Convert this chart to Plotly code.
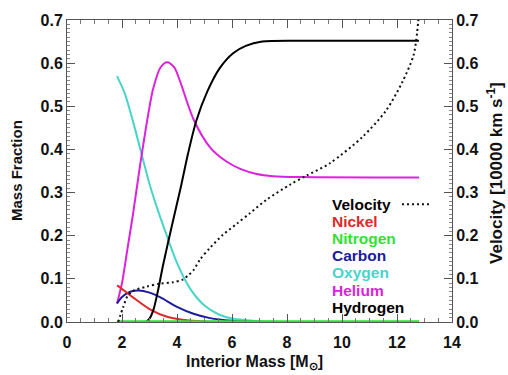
import plotly.graph_objects as go

# Composition profiles versus interior mass (solar masses)
oxygen_x = [1.82, 2.1, 2.4, 2.73, 3.0, 3.3, 3.63, 4.0, 4.47, 5.0, 5.5, 6.0, 7.0, 8.0, 12.8]
oxygen_y = [0.57, 0.53, 0.465, 0.385, 0.32, 0.26, 0.20, 0.137, 0.078, 0.038, 0.018, 0.008, 0.002, 0.0, 0.0]

helium_x = [1.82, 2.0, 2.2, 2.4, 2.65, 2.95, 3.13, 3.4, 3.64, 3.9, 4.1, 4.6, 5.2, 5.8, 6.3, 6.9, 7.5, 8.5, 12.8]
helium_y = [0.043, 0.09, 0.17, 0.25, 0.36, 0.48, 0.54, 0.59, 0.602, 0.59, 0.56, 0.47, 0.405, 0.372,
            0.355, 0.343, 0.338, 0.336, 0.335]

hydrogen_x = [1.82, 2.85, 3.0, 3.15, 3.3, 3.5, 3.82, 4.15, 4.4, 4.7, 5.1, 5.56, 6.04, 6.5, 7.1, 8.4, 12.8]
hydrogen_y = [0.0, 0.0, 0.008, 0.03, 0.07, 0.134, 0.225, 0.316, 0.39, 0.466, 0.534, 0.589, 0.623, 0.64, 0.65, 0.652, 0.652]

nickel_x = [1.82, 2.1, 2.4, 3.0, 3.64, 4.2, 5.0, 6.0, 12.8]
nickel_y = [0.085, 0.072, 0.057, 0.03, 0.012, 0.005, 0.001, 0.0, 0.0]

carbon_x = [1.82, 2.0, 2.3, 2.6, 3.0, 3.4, 4.0, 4.6, 5.2, 6.0, 7.0, 12.8]
carbon_y = [0.043, 0.058, 0.07, 0.073, 0.068, 0.057, 0.035, 0.019, 0.009, 0.003, 0.0, 0.0]

nitrogen_x = [1.82, 12.8]
nitrogen_y = [0.002, 0.002]

# Expansion velocity in units of 10000 km/s
velocity_x = [1.86, 2.04, 2.2, 2.4, 2.9, 3.38, 3.85, 4.2, 4.4, 4.6, 4.84, 5.2, 5.67, 6.18, 6.65,
              7.27, 8.1, 8.7, 9.56, 10.76, 11.6, 12.2, 12.6, 12.73, 12.8]
velocity_y = [0.0, 0.034, 0.06, 0.072, 0.082, 0.089, 0.092, 0.098, 0.108, 0.12, 0.145, 0.172, 0.202,
              0.228, 0.252, 0.284, 0.318, 0.339, 0.368, 0.43, 0.49, 0.557, 0.618, 0.67, 0.72]

legend_labels = ["Velocity", "Nickel", "Nitrogen", "Carbon", "Oxygen", "Helium", "Hydrogen"]

C_NI = "#dd2a2a"
C_N = "#33e033"
C_C = "#1c1c9c"
C_O = "#48d4c8"
C_HE = "#dd22dd"
C_H = "#000000"
legend_colors = ["#000000", C_NI, C_N, C_C, C_O, C_HE, C_H]

FONT = "Liberation Sans"
INK = "#111111"

fig = go.Figure()


def add_line(x, y, color, yaxis="y", dash="solid"):
    fig.add_trace(go.Scatter(
        x=x, y=y, mode="lines", yaxis=yaxis,
        line=dict(color=color, width=2, shape="spline", smoothing=0.8, dash=dash),
        showlegend=False, hoverinfo="skip",
    ))


add_line(oxygen_x, oxygen_y, C_O)
add_line(helium_x, helium_y, C_HE)
add_line(carbon_x, carbon_y, C_C)
add_line(nickel_x, nickel_y, C_NI)
add_line(hydrogen_x, hydrogen_y, C_H)
add_line(nitrogen_x, nitrogen_y, C_N)
add_line(velocity_x, velocity_y, "#111111", yaxis="y2", dash="2px,3px")

# plot box in pixels
L, R, T, B = 67, 56, 14, 53
W, H = 508, 375
pw, ph = W - L - R, H - T - B


def px(xp):
    return (xp - L) / pw


def py(yp):
    return (H - B - yp) / ph


annotations = []
legend_top = 202
for i, (lab, col) in enumerate(zip(legend_labels, legend_colors)):
    annotations.append(dict(
        x=px(330), y=py(legend_top + i * 17.5), xref="paper", yref="paper",
        text=lab, showarrow=False, xanchor="left", yanchor="middle",
        font=dict(family=FONT, size=15.5, color=col, weight="bold"),
    ))


def title_font(size):
    return dict(family=FONT, size=size, color=INK, weight="bold")


annotations += [
    dict(x=px(16), y=0.5, xref="paper", yref="paper", text="Mass Fraction", textangle=-90,
         xanchor="center", yanchor="middle", showarrow=False, font=title_font(15)),
    dict(x=px(495), y=py(170), xref="paper", yref="paper",
         text="Velocity [10000 km s<sup>-1</sup>]", textangle=-90,
         xanchor="center", yanchor="middle", showarrow=False, font=title_font(17)),
    dict(x=px(254), y=py(363), xref="paper", yref="paper",
         text="Interior Mass [M<sub>⊙</sub>]",
         xanchor="center", yanchor="middle", showarrow=False, font=title_font(16)),
]

shapes = [dict(type="line", xref="paper", yref="paper", x0=px(402), x1=px(430),
               y0=py(legend_top), y1=py(legend_top),
               line=dict(color="#111111", width=2, dash="2px,3px"))]

tickfont = dict(family=FONT, size=16, color=INK, weight="bold")

fig.update_layout(
    width=W, height=H,
    margin=dict(l=L, r=R, t=T, b=B),
    paper_bgcolor="white", plot_bgcolor="white",
    showlegend=False,
    annotations=annotations,
    shapes=shapes,
    xaxis=dict(
        range=[0, 14], dtick=2, tick0=0, ticks="inside", ticklen=8, tickwidth=1,
        tickcolor="#555555", showline=True, linecolor="#555555", linewidth=1, mirror="ticks",
        showgrid=False, zeroline=False, tickfont=tickfont, ticklabelstandoff=6,
        minor=dict(dtick=0.5, ticks="inside", ticklen=4, tickcolor="#777777"),
    ),
    yaxis=dict(
        range=[0, 0.7], dtick=0.1, tick0=0, tickformat=".1f", ticks="inside", ticklen=8,
        tickcolor="#555555", showline=True, linecolor="#555555", linewidth=1,
        showgrid=False, zeroline=False, tickfont=tickfont,
        minor=dict(dtick=0.01, ticks="inside", ticklen=3, tickcolor="#888888"),
    ),
    yaxis2=dict(
        range=[0, 0.7], dtick=0.1, tick0=0, tickformat=".1f", ticks="inside", ticklen=8,
        tickcolor="#555555", showline=True, linecolor="#555555", linewidth=1,
        overlaying="y", side="right", showgrid=False, zeroline=False, tickfont=tickfont,
        minor=dict(dtick=0.01, ticks="inside", ticklen=3, tickcolor="#888888"),
    ),
)

fig.write_html("out.html")
